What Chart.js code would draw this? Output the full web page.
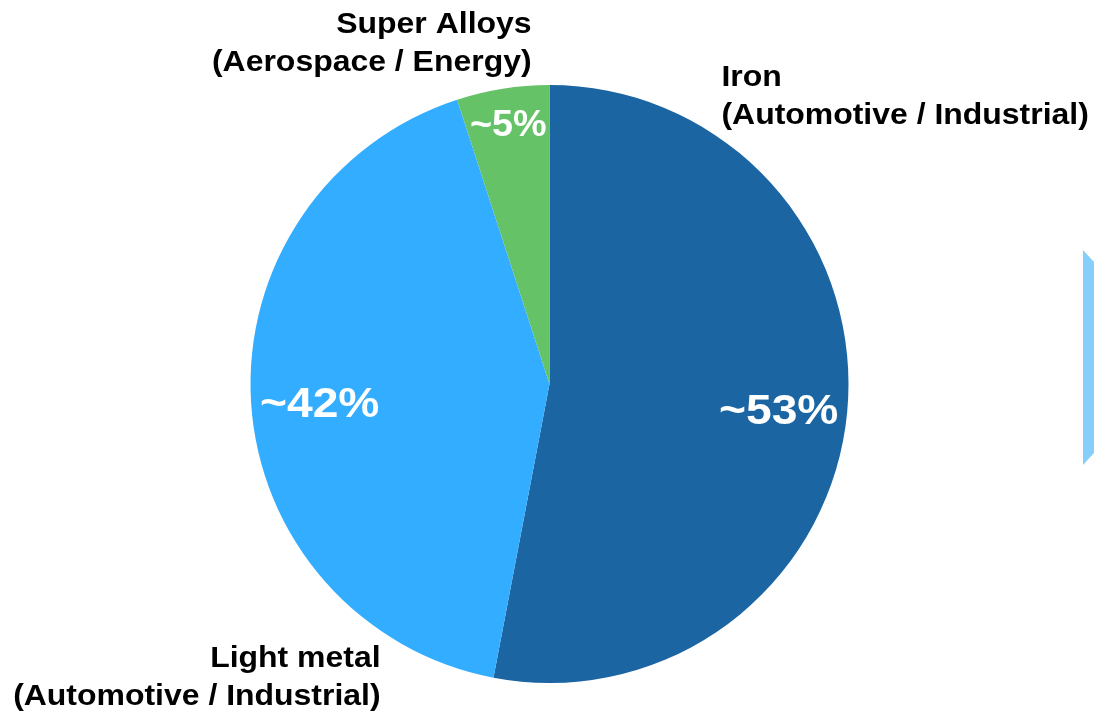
<!DOCTYPE html>
<html>
<head>
<meta charset="utf-8">
<script src="https://cdn.jsdelivr.net/npm/chart.js@4.4.1/dist/chart.umd.min.js"></script>
<style>
  html, body { margin: 0; padding: 0; background: #ffffff; }
  #wrap { width: 1094px; height: 713px; position: relative; }
</style>
</head>
<body>
<div id="wrap"><canvas id="pieChart" width="1094" height="713"></canvas></div>
<script>
// data
const categories = ['Iron', 'Light metal', 'Super Alloys'];
const subtitles = ['(Automotive / Industrial)', '(Automotive / Industrial)', '(Aerospace / Energy)'];
const shares = [53, 42, 5];
const shareLabels = ['~53%', '~42%', '~5%'];
const sliceColors = ['#1b65a3', '#33adff', '#66c266'];

const FONT = '"Liberation Sans", Arial, Helvetica, sans-serif';

// where each outside caption sits, relative to the pie centre / radius
const outerPlacement = [
    { dx: 0.575, dy: -1.025, align: 'left' },  // Iron
    { dx: -0.565, dy: 0.92, align: 'right' },  // Light metal
    { dx: -0.06, dy: -1.2, align: 'right' }    // Super Alloys
];
const innerRadius = [0.77, 0.77, 0.88];
const innerSize = [42, 42, 36];
const innerStretch = [1.1, 1.1, 1.05];
const innerNudge = [7, 7, 2];

// text in the original is a little wider than Arial, so stretch it
function stretchedText(c, txt, x, y, sx) {
    c.save();
    c.translate(x, y);
    c.scale(sx, 1);
    c.fillText(txt, 0, 0);
    c.restore();
}

const labelPlugin = {
    id: 'pieLabels',
    afterDatasetsDraw(chart) {
        const c = chart.ctx;
        const arcs = chart.getDatasetMeta(0).data;
        const first = arcs[0].getProps(['x', 'y', 'outerRadius'], true);
        const cx = first.x, cy = first.y, r = first.outerRadius;

        c.save();
        // percentages inside the slices
        arcs.forEach((arc, i) => {
            const p = arc.getProps(['startAngle', 'endAngle'], true);
            const mid = (p.startAngle + p.endAngle) / 2;
            const x = cx + Math.cos(mid) * r * innerRadius[i];
            const y = cy + Math.sin(mid) * r * innerRadius[i] + innerNudge[i];
            c.font = 'bold ' + innerSize[i] + 'px ' + FONT;
            c.fillStyle = '#ffffff';
            c.textAlign = 'center';
            c.textBaseline = 'middle';
            stretchedText(c, shareLabels[i], x, y, innerStretch[i]);
        });

        // captions outside
        c.fillStyle = '#000000';
        c.font = 'bold 30px ' + FONT;
        c.textBaseline = 'middle';
        categories.forEach((name, i) => {
            const pl = outerPlacement[i];
            const x = cx + pl.dx * r;
            const y = cy + pl.dy * r;
            c.textAlign = pl.align;
            stretchedText(c, name, x, y, 1.065);
            stretchedText(c, subtitles[i], x, y + 38, 1.065);
        });

        // cut-off arrow shape at the right border
        c.fillStyle = '#87cefa';
        c.beginPath();
        c.moveTo(1083, 250);
        c.lineTo(1094, 262);
        c.lineTo(1094, 453);
        c.lineTo(1083, 465);
        c.closePath();
        c.fill();
        c.restore();
    }
};

new Chart(document.getElementById('pieChart'), {
    type: 'pie',
    data: {
        labels: categories,
        datasets: [{
            data: shares,
            backgroundColor: sliceColors,
            borderWidth: 0
        }]
    },
    options: {
        responsive: false,
        animation: false,
        layout: {
            padding: { top: 85, bottom: 30, left: 250, right: 245 }
        },
        plugins: {
            legend: { display: false },
            tooltip: { enabled: false }
        }
    },
    plugins: [labelPlugin]
});
</script>
</body>
</html>
